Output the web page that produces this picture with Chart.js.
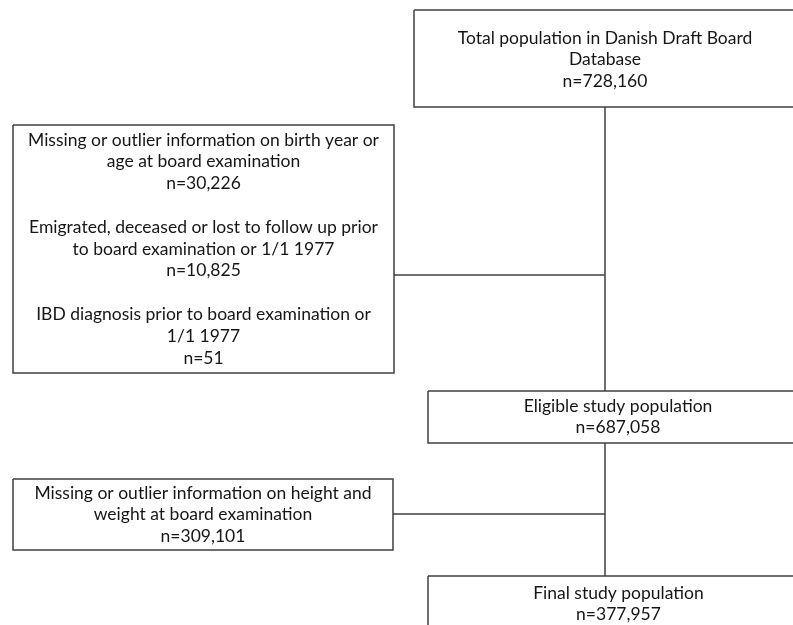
<!DOCTYPE html>
<html>
<head>
<meta charset="utf-8">
<script src="https://cdn.jsdelivr.net/npm/chart.js@4.4.1/dist/chart.umd.min.js"></script>
<style>
  html, body { margin: 0; padding: 0; background: #fff; }
  canvas { display: block; }
</style>
</head>
<body>
<canvas id="flow" width="793" height="625"></canvas>
<script>
"use strict";

// Flow steps: text lines (without the n= lines) and the counts shown below each block
const stepNames = ["total", "excluded1", "eligible", "excluded2", "final"];

const stepText = [
  [["Total population in Danish Draft Board", "Database"]],
  [
    ["Missing or outlier information on birth year or", "age at board examination"],
    ["Emigrated, deceased or lost to follow up prior", "to board examination or 1/1 1977"],
    ["IBD diagnosis prior to board examination or", "1/1 1977"]
  ],
  [["Eligible study population"]],
  [["Missing or outlier information on height and", "weight at board examination"]],
  [["Final study population"]]
];

const stepCounts = [
  [728160],
  [30226, 10825, 51],
  [687058],
  [309101],
  [377957]
];

// Box extents in chart units: [left, top, right, bottom], plus y of first text line
const stepBox = [
  [414, 10, 796, 107],
  [13, 125, 394, 373],
  [428, 391, 808, 443],
  [13, 479, 393, 550],
  [428, 576, 809, 660]
];
const stepTextTop = [38, 140, 406, 493, 593];

// Connectors: main spine and two side branches
const connectors = [
  [[605, 107], [605, 391]],
  [[605, 443], [605, 576]],
  [[394, 275], [605, 275]],
  [[393, 514], [605, 514]]
];

const LINE_COLOR = "#404040";
const TEXT_COLOR = "#161616";
const LINE_HEIGHT = 21.8;
const fmt = new Intl.NumberFormat("en-US");

function boxPath(box) {
  const [l, t, r, b] = box;
  return [
    { x: l, y: t }, { x: r, y: t }, { x: r, y: b }, { x: l, y: b }, { x: l, y: t }
  ];
}

const datasets = [];
stepBox.forEach((box, i) => {
  datasets.push({
    label: stepNames[i],
    data: boxPath(box),
    showLine: true,
    borderColor: LINE_COLOR,
    borderWidth: 1.5,
    pointRadius: 0,
    fill: false,
    tension: 0
  });
});
connectors.forEach((seg, i) => {
  datasets.push({
    label: "link" + i,
    data: seg.map(([x, y]) => ({ x, y })),
    showLine: true,
    borderColor: LINE_COLOR,
    borderWidth: 1.5,
    pointRadius: 0,
    fill: false,
    tension: 0
  });
});

const boxText = {
  id: "boxText",
  afterDatasetsDraw(chart) {
    const { ctx, scales } = chart;
    ctx.save();
    ctx.font = "17.5px Lato, 'Open Sans', sans-serif";
    ctx.fillStyle = TEXT_COLOR;
    ctx.textAlign = "center";
    ctx.textBaseline = "middle";
    stepBox.forEach((box, i) => {
      const cx = scales.x.getPixelForValue((box[0] + box[2]) / 2);
      const lines = [];
      stepText[i].forEach((group, g) => {
        if (g > 0) lines.push("");
        group.forEach((s) => lines.push(s));
        lines.push("n=" + fmt.format(stepCounts[i][g]));
      });
      lines.forEach((s, k) => {
        if (!s) return;
        const py = scales.y.getPixelForValue(stepTextTop[i] + k * LINE_HEIGHT);
        ctx.fillText(s, cx, py);
      });
    });
    ctx.restore();
  }
};

new Chart(document.getElementById("flow"), {
  type: "scatter",
  data: { datasets },
  options: {
    responsive: false,
    animation: false,
    layout: { padding: 0 },
    plugins: { legend: { display: false }, tooltip: { enabled: false } },
    scales: {
      x: { type: "linear", min: 0, max: 793, display: false },
      y: { type: "linear", min: 0, max: 625, reverse: true, display: false }
    }
  },
  plugins: [boxText]
});
</script>
</body>
</html>
